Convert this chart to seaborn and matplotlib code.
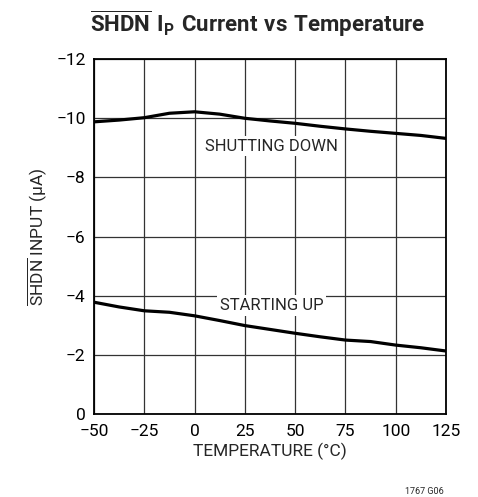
import pandas as pd
import seaborn as sns
import matplotlib.pyplot as plt

# temperature points (°C)
temp = [-50, -37.5, -25, -12.5, 0, 12.5, 25, 37.5, 50, 62.5, 75, 87.5, 100, 112.5, 125]
shut_down = [-9.88, -9.94, -10.02, -10.17, -10.22, -10.14, -10.0, -9.91, -9.83, -9.73, -9.64, -9.56, -9.49, -9.42, -9.32]
start_up = [-3.78, -3.62, -3.49, -3.44, -3.32, -3.16, -2.99, -2.86, -2.73, -2.61, -2.50, -2.45, -2.33, -2.24, -2.13]

x_ticks = [-50, -25, 0, 25, 50, 75, 100, 125]
y_ticks = [0, -2, -4, -6, -8, -10, -12]

sns.set_style("white")
font = ["Roboto", "DejaVu Sans"]
plt.rcParams["font.family"] = font
plt.rcParams["mathtext.fontset"] = "custom"
plt.rcParams["mathtext.rm"] = "Roboto"
plt.rcParams["mathtext.bf"] = "Roboto:bold"

df = pd.DataFrame({"temp": temp + temp,
                   "current": shut_down + start_up,
                   "mode": ["down"] * len(temp) + ["up"] * len(temp)})

fig = plt.figure(figsize=(4.78, 4.97), dpi=100)
ax = fig.add_axes([0.1967, 0.167, 0.7364, 0.714])

sns.lineplot(data=df, x="temp", y="current", units="mode", estimator=None,
             color="black", linewidth=2.3, ax=ax, legend=False)

ax.set_xlim(-50, 125)
ax.set_ylim(0, -12)
ax.set_xticks(x_ticks)
ax.set_yticks(y_ticks)
ax.set_xticklabels([str(t).replace("-", "\u2212") for t in x_ticks])
ax.set_yticklabels([str(t).replace("-", "\u2212") for t in y_ticks])
ax.tick_params(length=0, labelsize=12.5, colors="black")
ax.tick_params(axis="x", pad=7)
ax.tick_params(axis="y", pad=6)
ax.grid(True, color="#333333", linewidth=0.9)
for s in ax.spines.values():
    s.set_color("black")
    s.set_linewidth(1.3)

ax.set_xlabel("TEMPERATURE (°C)", fontsize=12.5, labelpad=3)
ax.set_ylabel(r"$\overline{\mathrm{SHDN}}$ INPUT (µA)", fontsize=12.5, labelpad=5)

bbox = dict(facecolor="white", edgecolor="none", pad=2)
ax.text(38.4, -9.06, "SHUTTING DOWN", fontsize=12, ha="center", va="center", bbox=bbox)
ax.text(38.4, -3.68, "STARTING UP", fontsize=12, ha="center", va="center", bbox=bbox)

fig.text(0.539, 0.952, r"$\mathbf{\overline{SHDN}\ I_P\ Current\ vs\ Temperature}$",
         fontsize=16, ha="center", va="center")
fig.text(0.928, 0.002, "1767 G06", fontsize=6.5, ha="right", va="bottom")

fig.savefig("out.png", dpi=100)
